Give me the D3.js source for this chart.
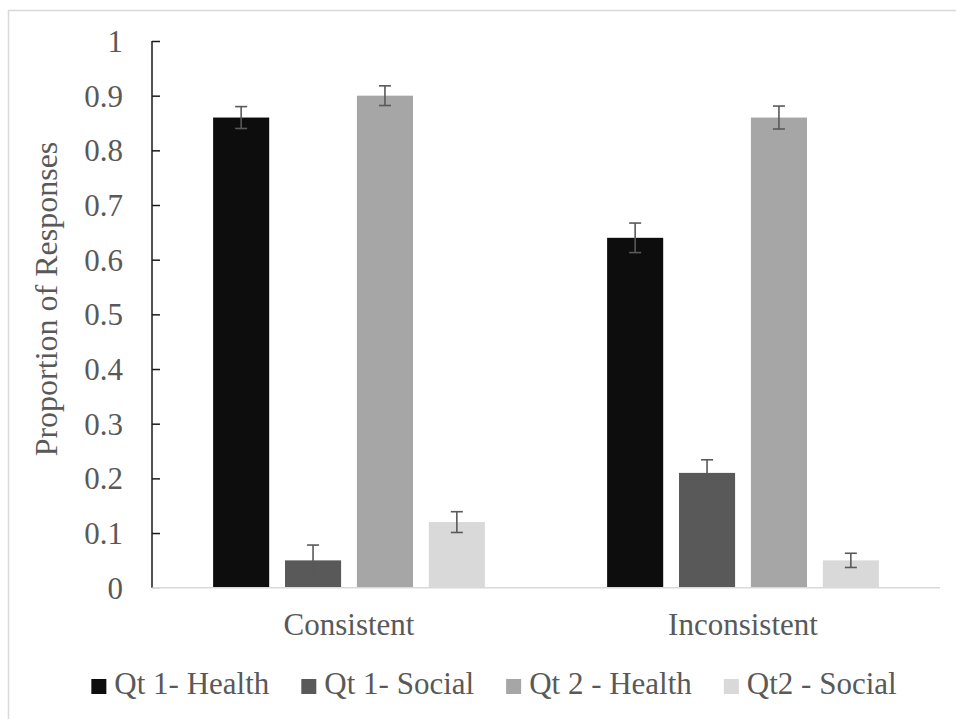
<!DOCTYPE html>
<html>
<head>
<meta charset="utf-8">
<script src="https://cdn.jsdelivr.net/npm/d3@7"></script>
<style>
  html, body { margin: 0; padding: 0; background: #fff; }
  svg { display: block; }
</style>
</head>
<body>
<script>
const categories = ["Consistent", "Inconsistent"];
const seriesNames = ["Qt 1- Health", "Qt 1- Social", "Qt 2 - Health", "Qt2 - Social"];
const consistentValues = [0.86, 0.05, 0.90, 0.12];
const inconsistentValues = [0.64, 0.21, 0.86, 0.05];
const consistentErrors = [0.020, 0.028, 0.018, 0.019];
const inconsistentErrors = [0.027, 0.024, 0.021, 0.013];
const yTicks = [0, 0.1, 0.2, 0.3, 0.4, 0.5, 0.6, 0.7, 0.8, 0.9, 1];
const seriesColors = ["#0d0d0d", "#595959", "#a6a6a6", "#d9d9d9"];

const FONT = "'Liberation Serif', 'Times New Roman', Tinos, 'DejaVu Serif', serif";
const W = 956, H = 719;
const margin = { left: 152, right: 16, top: 41, bottom: 131 };
const svg = d3.select("body").append("svg").attr("width", W).attr("height", H)
  .attr("font-family", FONT);

// chart border
svg.append("rect").attr("x", 8.5).attr("y", 10.5).attr("width", W + 20).attr("height", H + 20)
  .attr("fill", "none").attr("stroke", "#d9d9d9").attr("stroke-width", 1.5);

const x0 = d3.scaleBand().domain(categories).range([margin.left, W - margin.right]).padding(0);
const x1 = d3.scaleBand().domain(seriesNames).range([0, x0.bandwidth()]).paddingInner(0.22).paddingOuter(0.85);
const y = d3.scaleLinear().domain([0, 1]).range([H - margin.bottom - 0.3, margin.top]);

const valuesByCat = { "Consistent": consistentValues, "Inconsistent": inconsistentValues };
const errorsByCat = { "Consistent": consistentErrors, "Inconsistent": inconsistentErrors };

const rows = [];
categories.forEach(c => seriesNames.forEach((s, i) => rows.push({
  cat: c, s, i, v: valuesByCat[c][i], e: errorsByCat[c][i]
})));

// bars
svg.append("g").selectAll("rect").data(rows).join("rect")
  .attr("x", d => x0(d.cat) + x1(d.s))
  .attr("y", d => y(d.v))
  .attr("width", x1.bandwidth())
  .attr("height", d => y(0) - y(d.v))
  .attr("fill", d => seriesColors[d.i]);

// x baseline
svg.append("line").attr("x1", margin.left).attr("x2", W - margin.right)
  .attr("y1", y(0)).attr("y2", y(0)).attr("stroke", "#d9d9d9").attr("stroke-width", 1.5);

// y axis
const yAxis = d3.axisRight(y).tickValues(yTicks).tickSize(8).tickFormat("");
const gy = svg.append("g").attr("transform", `translate(${margin.left},0)`).call(yAxis);
gy.select(".domain").attr("stroke", "#1a1a1a").attr("stroke-width", 1.5).attr("d", `M0,${y(1)}V${y(0)}`);
gy.selectAll(".tick line").attr("stroke", "#1a1a1a").attr("stroke-width", 1.5);
gy.selectAll(".tick").filter(d => d === 0).select("line").attr("stroke", "#d9d9d9");

svg.append("g").selectAll("text").data(yTicks).join("text")
  .attr("x", 123).attr("y", d => y(d)).attr("dy", "0.35em")
  .attr("text-anchor", "end").attr("font-size", 31).attr("fill", "#595959")
  .attr("font-family", FONT)
  .text(d => d3.format("")(d));

// error bars
const eg = svg.append("g").attr("stroke", "#595959").attr("stroke-width", 1.6);
rows.forEach(d => {
  const cx = x0(d.cat) + x1(d.s) + x1.bandwidth() / 2;
  const yt = y(d.v + d.e), yb = y(d.v - d.e);
  eg.append("line").attr("x1", cx).attr("x2", cx).attr("y1", yt).attr("y2", yb);
  eg.append("line").attr("x1", cx - 6).attr("x2", cx + 6).attr("y1", yt).attr("y2", yt);
  eg.append("line").attr("x1", cx - 6).attr("x2", cx + 6).attr("y1", yb).attr("y2", yb);
});

// category labels
svg.append("g").selectAll("text").data(categories).join("text")
  .attr("x", d => x0(d) + x0.bandwidth() / 2).attr("y", 635)
  .attr("text-anchor", "middle").attr("font-size", 31).attr("fill", "#595959")
  .attr("font-family", FONT)
  .text(d => d);

// y title
svg.append("text").attr("transform", "translate(57,299) rotate(-90)")
  .attr("text-anchor", "middle").attr("font-size", 32).attr("fill", "#595959")
  .attr("font-family", FONT)
  .text("Proportion of Responses");

// legend
const lg = svg.append("g");
const items = lg.selectAll("g").data(seriesNames).join("g");
items.append("rect").attr("width", 15).attr("height", 15).attr("y", -15).attr("fill", (d, i) => seriesColors[i]);
items.append("text").attr("x", 23).attr("y", 0).attr("font-size", 31).attr("fill", "#595959")
  .attr("font-family", FONT).text(d => d);
let cx = 0;
const gap = 32;
items.each(function(d) {
  const tw = d3.select(this).select("text").node().getComputedTextLength();
  d3.select(this).attr("transform", `translate(${cx},694)`);
  cx += 23 + tw + gap;
});
const total = cx - gap;
lg.attr("transform", `translate(${494 - total / 2},0)`);
</script>
</body>
</html>
